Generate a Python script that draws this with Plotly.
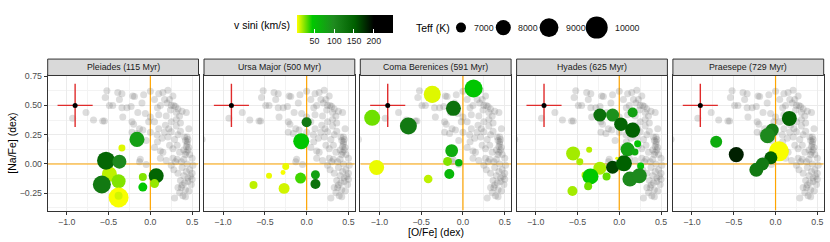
import numpy as np
import plotly.graph_objects as go

W, H = 830, 242

# ---------------- data ----------------
clusters = ["Pleiades (115 Myr)", "Ursa Major (500 Myr)", "Coma Berenices (591 Myr)",
            "Hyades (625 Myr)", "Praesepe (729 Myr)"]

field_ofe = [-0.52, -0.54, -0.39, -0.34, -0.49, -0.77, -0.68, -0.57, -0.55, -0.37, -0.34, -0.33,
             -0.23, -0.21, -0.19, -0.08, -0.15, -0.06, -0.22, -0.20, -0.22, -0.13, -0.09, -0.16,
             -0.12, -0.13, 0.085, 0.12, 0.15, 0.12, 0.21, 0.15, 0.17, 0.23, 0.25, 0.30, 0.24,
             0.085, 0.10, 0.19, 0.31, 0.35, 0.43, 0.36, 0.31, 0.25, 0.17, 0.21, 0.29, 0.32, 0.23,
             0.27, 0.35, 0.27, 0.19, 0.32, 0.25, 0.37, 0.45, 0.44, 0.46, 0.43, 0.41, 0.50, 0.51,
             0.45, 0.41, 0.37, 0.35, 0.29, 0.39, 0.46, 0.49, 0.48, 0.43, -1.25, -0.93,
             0.42, 0.44, 0.43, 0.45, 0.42, 0.44, 0.40, 0.33, 0.28, 0.31, 0.20, 0.12, 0.40, 0.45,
             0.38, 0.42, 0.47, 0.50, 0.36, 0.18, 0.22, 0.25, 0.14, 0.10, 0.05, 0.00, -0.02, 0.00,
             -0.05, 0.05, 0.28, 0.30, -0.28, -0.45, 0.00, 0.05, -0.10, 0.08, 0.36, 0.33, 0.47,
             0.40, 0.44, 0.38, 0.33, 0.50, 0.42, 0.33, 0.46, 0.38, 0.27, 0.10, -0.05]
field_nafe = [0.625, 0.567, 0.61, 0.60, 0.50, 0.44, 0.375, 0.367, 0.367, 0.55, 0.48, 0.40,
              0.49, 0.58, 0.575, 0.59, 0.44, 0.43, 0.36, 0.34, 0.27, 0.30, 0.29, 0.26,
              0.04, 0.02, 0.19, 0.11, 0.10, 0.05, 0.63, 0.61, 0.55, 0.55, 0.50, 0.49, 0.46,
              0.48, 0.42, 0.41, 0.44, 0.41, 0.44, 0.35, 0.325, 0.275, 0.27, 0.23, 0.21, 0.16, 0.16,
              0.13, 0.10, 0.05, 0.03, 0.04, -0.01, 0.02, 0.21, 0.17, 0.14, 0.10, 0.23, 0.05, -0.01,
              -0.12, -0.16, -0.20, -0.245, -0.29, -0.27, -0.23, -0.175, -0.105, -0.065, 0.21, 0.39,
              0.20, 0.19, 0.15, 0.12, 0.08, 0.23, 0.12, 0.47, 0.50, 0.38, 0.52, 0.50, -0.10, -0.15,
              -0.18, -0.22, -0.05, -0.08, -0.14, 0.33, 0.30, 0.36, 0.22, 0.30, 0.36, 0.40, 0.36, 0.27,
              0.20, 0.14, -0.05, 0.02, 0.48, 0.50, 0.62, 0.55, 0.52, 0.25, 0.28, 0.25, 0.08,
              0.04, 0.00, -0.03, -0.08, -0.13, -0.28, -0.20, 0.30, 0.45, 0.58, 0.60, -0.005]

pleiades_ofe = [-0.16, -0.34, -0.49, -0.38, -0.53, -0.37, -0.58, -0.38, -0.38, -0.09, -0.09, 0.07, 0.05]
pleiades_nafe = [0.21, 0.136, -0.086, -0.147, 0.028, 0.02, -0.175, -0.286, -0.27, -0.11, -0.197, -0.10, -0.167]
pleiades_vsini = [80, 10, 15, 24, 142, 100, 120, 6, 12, 24, 46, 145, 21]
pleiades_teff = [7980, 6600, 7980, 7750, 8750, 7750, 8750, 9340, 6720, 6720, 6850, 7980, 6850]

ursa_ofe = [0.0, -0.065, -0.25, -0.283, -0.45, -0.073, 0.105, 0.105, -0.636, -0.27]
ursa_nafe = [0.356, 0.194, -0.022, -0.072, -0.10, -0.12, -0.092, -0.17, -0.18, -0.208]
ursa_vsini = [120, 46, 8, 6, 8, 34, 78, 128, 15, 12]
ursa_teff = [7000, 8220, 6600, 6410, 6500, 7160, 6850, 7000, 6720, 7160]

coma_ofe = [0.127, -0.367, -0.114, -1.086, -0.653, -0.135, -0.184, -0.05, -1.033, -0.163, -0.416]
coma_nafe = [0.644, 0.594, 0.475, 0.394, 0.325, 0.114, 0.022, 0.011, -0.03, -0.086, -0.128]
coma_vsini = [46, 10, 128, 27, 120, 68, 24, 60, 8, 58, 15]
coma_teff = [8750, 8480, 7980, 8220, 8480, 7500, 6850, 6660, 7980, 7000, 6810]

hyades_ofe = [-0.232, -0.08, 0.16, 0.02, 0.16, 0.22, 0.10, 0.188, -0.552, -0.36, -0.472, -0.232,
              -0.08, 0.056, -0.03, 0.256, -0.41, -0.344, -0.152, 0.128, 0.24, -0.372, -0.56]
hyades_nafe = [0.417, 0.417, 0.439, 0.339, 0.289, 0.172, 0.125, 0.103, 0.089, 0.122, 0.019, -0.036,
               -0.028, 0.006, 0.05, -0.017, -0.094, -0.106, -0.106, -0.128, -0.10, -0.189, -0.23]
hyades_vsini = [132, 92, 78, 145, 150, 46, 78, 68, 19, 16, 18, 18, 165, 150, 8, 46, 15, 44, 29,
                100, 100, 27, 19]
hyades_teff = [7540, 7540, 7000, 7640, 7980, 6600, 7750, 6600, 7750, 6500, 6600, 7540, 7540, 8220,
               6290, 6600, 6600, 8220, 6720, 7980, 7980, 6720, 7000]

praesepe_ofe = [0.165, -0.04, -0.096, -0.71, 0.04, -0.47, -0.056, -0.157, -0.23]
praesepe_nafe = [0.389, 0.289, 0.242, 0.19, 0.108, 0.08, 0.053, 0.0, -0.05]
praesepe_vsini = [145, 115, 100, 68, 6, 183, 150, 120, 120]
praesepe_teff = [7980, 7540, 7980, 7340, 9340, 7980, 7540, 7540, 7750]

err_ofe, err_nafe = [-0.9], [0.5]
err_dofe, err_dnafe = [0.21], [0.185]

x_ticks = [-1.0, -0.5, 0.0, 0.5]
x_minor = [-1.25, -0.75, -0.25, 0.25]
y_ticks = [-0.25, 0.0, 0.25, 0.5, 0.75]
y_minor = [-0.375, -0.125, 0.125, 0.375, 0.625]
ref_ofe, ref_nafe = 0.0, 0.0
vsini_ticks = [50, 100, 150, 200]
legend_teff = [7000, 8000, 9000, 10000]

panels = [
    (pleiades_ofe, pleiades_nafe, pleiades_vsini, pleiades_teff),
    (ursa_ofe, ursa_nafe, ursa_vsini, ursa_teff),
    (coma_ofe, coma_nafe, coma_vsini, coma_teff),
    (hyades_ofe, hyades_nafe, hyades_vsini, hyades_teff),
    (praesepe_ofe, praesepe_nafe, praesepe_vsini, praesepe_teff),
]

FONT = "Liberation Sans, Arial, Helvetica, sans-serif"


def teff_to_diam(t):
    t = np.asarray(t, dtype=float)
    return np.sqrt(np.clip(100 + 0.128 * (t - 7000), 4, None))


colorscale = [[0.0, "#ffff00"], [0.16, "#00c800"], [0.38, "#1f8b1f"],
              [0.60, "#006000"], [0.80, "#000000"], [1.0, "#000000"]]

X_RANGE = [-1.228, 0.576]
Y_RANGE = [-0.397, 0.755]

panel_w, gap, left0 = 150.8, 5.5, 47.7
plot_top, plot_bot = 72.7, 210.0
strip_top = 56.0
LEG_BOT = 48.0


def px(x):
    return x / W


def py(y):
    return 1 - y / H


fig = go.Figure()
layout = dict(
    width=W, height=H, autosize=False,
    margin=dict(l=0, r=0, t=0, b=0, pad=0),
    paper_bgcolor="white", plot_bgcolor="white",
    font=dict(family=FONT, size=9, color="#1a1a1a"),
    showlegend=False,
    coloraxis=dict(
        colorscale=colorscale, cmin=5, cmax=248,
        colorbar=dict(
            orientation="h", x=px(296.7), xanchor="left", y=py(10.7), yanchor="top",
            len=95.6, lenmode="pixels", thickness=18.3, thicknessmode="pixels",
            xpad=0, ypad=0, outlinewidth=0, tickmode="array", tickvals=vsini_ticks,
            ticks="inside", ticklen=4, tickcolor="white", tickwidth=1,
            tickfont=dict(family=FONT, size=8.8, color="#1a1a1a"),
        ),
    ),
)

shapes, annotations = [], []
for i in range(5):
    n = "" if i == 0 else str(i + 1)
    x0 = left0 + i * (panel_w + gap)
    x1 = x0 + panel_w
    common = dict(
        ticklen=3, tickwidth=1, tickcolor="#333333",
        tickfont=dict(family=FONT, size=8.8, color="#4d4d4d"),
        showgrid=True, gridcolor="#ebebeb", gridwidth=1,
        zeroline=False,
        showline=True, mirror=True, linecolor="#333333", linewidth=1,
        fixedrange=True,
    )
    layout["xaxis" + n] = dict(
        domain=[px(x0), px(x1)], range=X_RANGE, anchor="y" + n,
        tickmode="array", tickvals=x_ticks, tickformat=".1f", ticks="outside",
        minor=dict(tickmode="array", tickvals=x_minor, showgrid=True,
                   gridcolor="#f3f3f3", gridwidth=0.6, ticks=""),
        **common)
    layout["yaxis" + n] = dict(
        domain=[py(plot_bot), py(plot_top)], range=Y_RANGE, anchor="x" + n,
        tickmode="array", tickvals=y_ticks, tickformat=".2f",
        ticks="outside" if i == 0 else "", showticklabels=(i == 0),
        minor=dict(tickmode="array", tickvals=y_minor, showgrid=True,
                   gridcolor="#f3f3f3", gridwidth=0.6, ticks=""),
        **common)
    xa, ya = "x" + n, "y" + n
    shapes.append(dict(type="rect", xref="paper", yref="paper",
                       x0=px(x0), x1=px(x1), y0=py(plot_top), y1=py(strip_top),
                       fillcolor="#d9d9d9", line=dict(color="#333333", width=1), layer="above"))
    annotations.append(dict(text=clusters[i], xref="paper", yref="paper",
                            x=px((x0 + x1) / 2), y=py((plot_top + strip_top) / 2),
                            xanchor="center", yanchor="middle", showarrow=False,
                            font=dict(family=FONT, size=8.8, color="#1a1a1a")))

    # orange reference lines at solar values (drawn first, beneath the stars)
    fig.add_trace(go.Scatter(x=[ref_ofe, ref_ofe], y=Y_RANGE, mode="lines", xaxis=xa, yaxis=ya,
                             line=dict(color="#FFA500", width=1.2), hoverinfo="skip"))
    fig.add_trace(go.Scatter(x=X_RANGE, y=[ref_nafe, ref_nafe], mode="lines", xaxis=xa, yaxis=ya,
                             line=dict(color="#FFA500", width=1.2), hoverinfo="skip"))
    fig.add_trace(go.Scatter(
        x=field_ofe, y=field_nafe, mode="markers", xaxis=xa, yaxis=ya,
        marker=dict(size=7, color="rgba(100,100,100,0.22)", line=dict(width=0), opacity=1),
        hoverinfo="skip"))
    fig.add_trace(go.Scatter(
        x=err_ofe, y=err_nafe, mode="markers", xaxis=xa, yaxis=ya,
        error_x=dict(type="data", array=err_dofe, width=0, color="#e02b2b", thickness=1.4),
        error_y=dict(type="data", array=err_dnafe, width=0, color="#e02b2b", thickness=1.4),
        marker=dict(size=5, color="black", symbol="circle", opacity=1), hoverinfo="skip"))
    ofe, nafe, vs, te = panels[i]
    fig.add_trace(go.Scatter(
        x=ofe, y=nafe, mode="markers", xaxis=xa, yaxis=ya,
        marker=dict(size=teff_to_diam(te), color=vs, coloraxis="coloraxis",
                    line=dict(width=0), opacity=1),
        customdata=np.stack([vs, te], axis=1),
        hovertemplate="[O/Fe]=%{x}<br>[Na/Fe]=%{y}<br>v sini=%{customdata[0]}<br>Teff=%{customdata[1]}<extra></extra>"))

layout["xaxis6"] = dict(domain=[0, 1], range=[0, W], visible=False, fixedrange=True, anchor="y6")
layout["yaxis6"] = dict(domain=[py(LEG_BOT), 1], range=[LEG_BOT, 0], visible=False,
                        fixedrange=True, anchor="x6")
leg_x = [461.0, 503.3, 549.0, 596.7]
leg_y = 24.0
leg_d = teff_to_diam(legend_teff)
fig.add_trace(go.Scatter(x=leg_x, y=[leg_y] * 4, mode="markers", xaxis="x6", yaxis="y6",
                         marker=dict(size=leg_d, color="black", line=dict(width=0), opacity=1),
                         hoverinfo="skip"))
for xc, d, t in zip(leg_x, leg_d, legend_teff):
    annotations.append(dict(text=str(t), xref="paper", yref="paper",
                            x=px(xc + d / 2 + 5.5), y=py(leg_y), xanchor="left", yanchor="middle",
                            showarrow=False, font=dict(family=FONT, size=8.8, color="#1a1a1a")))

annotations += [
    dict(text="Teff (K)", xref="paper", yref="paper", x=px(414), y=py(leg_y),
         xanchor="left", yanchor="middle", showarrow=False,
         font=dict(family=FONT, size=10.5, color="black")),
    dict(text="v sini (km/s)", xref="paper", yref="paper", x=px(291.5), y=py(21),
         xanchor="right", yanchor="middle", showarrow=False,
         font=dict(family=FONT, size=10.5, color="black")),
    dict(text="[O/Fe] (dex)", xref="paper", yref="paper",
         x=px(left0 + (5 * panel_w + 4 * gap) / 2), y=py(231.5),
         xanchor="center", yanchor="middle", showarrow=False,
         font=dict(family=FONT, size=10.5, color="black")),
    dict(text="[Na/Fe] (dex)", xref="paper", yref="paper", x=px(11.7),
         y=py((plot_top + plot_bot) / 2), xanchor="center", yanchor="middle",
         textangle=-90, showarrow=False, font=dict(family=FONT, size=10.5, color="black")),
]

layout["shapes"] = shapes
layout["annotations"] = annotations
fig.update_layout(**layout)
fig.write_html("out.html", config={"displayModeBar": False},
               post_script="document.body.style.margin='0px';document.body.style.padding='0px';")
